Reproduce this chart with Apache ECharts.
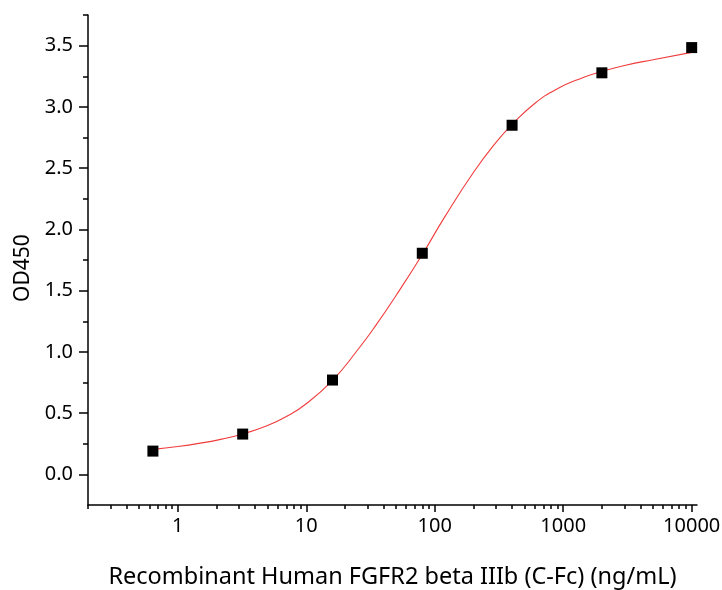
<!DOCTYPE html>
<html>
<head>
<meta charset="utf-8">
<script src="https://cdn.jsdelivr.net/npm/echarts@6/dist/echarts.min.js"></script>
<style>
html,body{margin:0;padding:0;background:#fff;}
#chart{width:722px;height:590px;}
</style>
</head>
<body>
<div id="chart"></div>
<script>
// Measured points
const concentrations = [0.64, 3.2, 16, 80, 400, 2000, 10000];
const od450 = [0.19, 0.329, 0.77, 1.805, 2.85, 3.278, 3.484];

// Fitted curve
const curveX = [0.64, 1, 1.5, 2.2, 3.2, 5, 7, 10, 16, 25, 35, 50, 80, 120, 200, 300, 400, 600, 900, 1400, 2000, 3000, 5000, 10000];
const curveY = [0.204, 0.227, 0.255, 0.288, 0.329, 0.399, 0.472, 0.577, 0.767, 1.013, 1.220, 1.460, 1.795, 2.104, 2.464, 2.710, 2.856, 3.028, 3.148, 3.236, 3.289, 3.338, 3.385, 3.445];

// Axis ticks
const xMajorTicks = [1, 10, 100, 1000, 10000];
const xMinorTicks = [0.2,0.3,0.4,0.5,0.6,0.7,0.8,0.9,2,3,4,5,6,7,8,9,20,30,40,50,60,70,80,90,200,300,400,500,600,700,800,900,2000,3000,4000,5000,6000,7000,8000,9000];
const yMajorTicks = [0, 0.5, 1.0, 1.5, 2.0, 2.5, 3.0, 3.5];
const yMinorTicks = [0.25, 0.75, 1.25, 1.75, 2.25, 2.75, 3.25, 3.75];

const xTitle = 'Recombinant Human FGFR2 beta IIIb (C-Fc) (ng/mL)';
const yTitle = 'OD450';

const FONT = 'Noto Sans';
const chart = echarts.init(document.getElementById('chart'), null, {renderer: 'canvas'});

const axisLineStyle = {color: '#000', width: 1.5};

const option = {
  animation: false,
  backgroundColor: '#fff',
  grid: {left: 88, right: 25, top: 15, bottom: 85, containLabel: false, outerBoundsMode: 'none'},
  xAxis: [
    {
      type: 'log', logBase: 10, min: 0.2, max: 11000,
      name: xTitle, nameLocation: 'middle', nameGap: 60,
      nameTextStyle: {fontFamily: FONT, fontSize: 23.5, color: '#000'},
      axisLine: {show: true, onZero: false, lineStyle: axisLineStyle},
      axisTick: {show: true, length: 7, lineStyle: {color: '#000', width: 1.5}, customValues: xMajorTicks},
      axisLabel: {show: true, fontFamily: FONT, fontSize: 20, color: '#000', margin: 11, customValues: xMajorTicks,
        formatter: function (v) { return String(Math.round(v)); }},
      splitLine: {show: false},
      minorTick: {show: false}
    },
    {
      type: 'log', logBase: 10, min: 0.2, max: 11000, position: 'bottom',
      axisLine: {show: false, onZero: false},
      axisTick: {show: true, length: 4, lineStyle: {color: '#000', width: 1.5}, customValues: xMinorTicks},
      axisLabel: {show: false},
      splitLine: {show: false}
    }
  ],
  yAxis: [
    {
      type: 'value', min: -0.25, max: 3.75,
      name: yTitle, nameLocation: 'middle', nameGap: 54,
      nameTextStyle: {fontFamily: FONT, fontSize: 21, color: '#000', padding: [0, 0, 0, -16]},
      axisLine: {show: true, onZero: false, lineStyle: axisLineStyle},
      axisTick: {show: true, length: 9, lineStyle: {color: '#000', width: 1.5}, customValues: yMajorTicks},
      axisLabel: {show: true, fontFamily: FONT, fontSize: 20, color: '#000', margin: 15, customValues: yMajorTicks,
        formatter: function (v) { return v.toFixed(1); }},
      splitLine: {show: false}
    },
    {
      type: 'value', min: -0.25, max: 3.75, position: 'left',
      axisLine: {show: false, onZero: false},
      axisTick: {show: true, length: 5, lineStyle: {color: '#000', width: 1.5}, customValues: yMinorTicks},
      axisLabel: {show: false},
      splitLine: {show: false}
    }
  ],
  series: [
    {
      type: 'line', xAxisIndex: 0, yAxisIndex: 0,
      data: curveX.map((x, i) => [x, curveY[i]]),
      smooth: 0.5, showSymbol: false, symbol: 'none',
      lineStyle: {color: '#f03c3c', width: 1.1},
      z: 2
    },
    {
      type: 'scatter', xAxisIndex: 0, yAxisIndex: 0,
      data: concentrations.map((x, i) => [x, od450[i]]),
      symbol: 'rect', symbolSize: 11,
      itemStyle: {color: '#000', opacity: 1},
      z: 3
    }
  ]
};
chart.setOption(option);
</script>
</body>
</html>
